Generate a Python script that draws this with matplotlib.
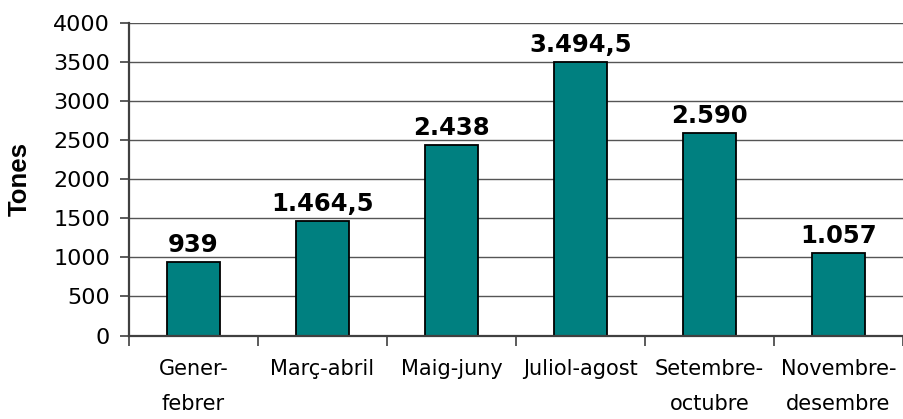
import matplotlib
matplotlib.use('Agg')
import matplotlib.pyplot as plt

# data
periods = ['Gener-\nfebrer', 'Març-abril', 'Maig-juny', 'Juliol-agost',
           'Setembre-\noctubre', 'Novembre-\ndesembre']
tones = [939, 1464.5, 2438, 3494.5, 2590, 1057]
value_labels = ['939', '1.464,5', '2.438', '3.494,5', '2.590', '1.057']
y_ticks = [0, 500, 1000, 1500, 2000, 2500, 3000, 3500, 4000]


def main():
    plt.rcParams['font.family'] = ['DejaVu Sans']

    fig = plt.figure(figsize=(9.04, 4.19), dpi=100)
    ax = fig.add_axes([129 / 904, 0.199, 774 / 904, 0.747])

    x = list(range(len(periods)))

    # grid lines behind the bars
    ax.set_axisbelow(True)
    ax.yaxis.grid(True, color='#555555', linewidth=1)

    # Plot the data
    bars = ax.bar(x, tones, width=0.41, color='#008080',
                  edgecolor='black', linewidth=1.3)

    # value labels above each bar
    for rect, text in zip(bars, value_labels):
        ax.annotate(text, (rect.get_x() + rect.get_width() / 2, rect.get_height()),
                    xytext=(0, 7), textcoords='offset points',
                    ha='center', va='baseline', fontsize=17.5, fontweight='bold')

    ax.set_xlim(-0.5, len(periods) - 0.5)
    ax.set_ylim(0, 4000)
    ax.set_yticks(y_ticks)
    ax.tick_params(axis='y', labelsize=16, length=6.5, width=1.2,
                   color='#404040', pad=7)

    # category labels without tick marks, tick marks between categories
    ax.set_xticks(x)
    ax.set_xticklabels(periods, fontsize=15, linespacing=1.9)
    ax.tick_params(axis='x', which='major', length=0, pad=17)
    ax.set_xticks([i - 0.5 for i in range(len(periods) + 1)], minor=True)
    ax.tick_params(axis='x', which='minor', length=7, width=1.2, color='#404040')

    for side in ['top', 'right']:
        ax.spines[side].set_visible(False)
    for side in ['left', 'bottom']:
        ax.spines[side].set_color('#404040')
        ax.spines[side].set_linewidth(1.6)

    ax.set_ylabel('Tones', fontsize=18.5, fontweight='bold',
                  family=['Liberation Sans', 'DejaVu Sans'])
    ax.yaxis.set_label_coords(-0.125, 0.5)

    fig.savefig('out.png', dpi=100)


if __name__ == "__main__":
    main()
